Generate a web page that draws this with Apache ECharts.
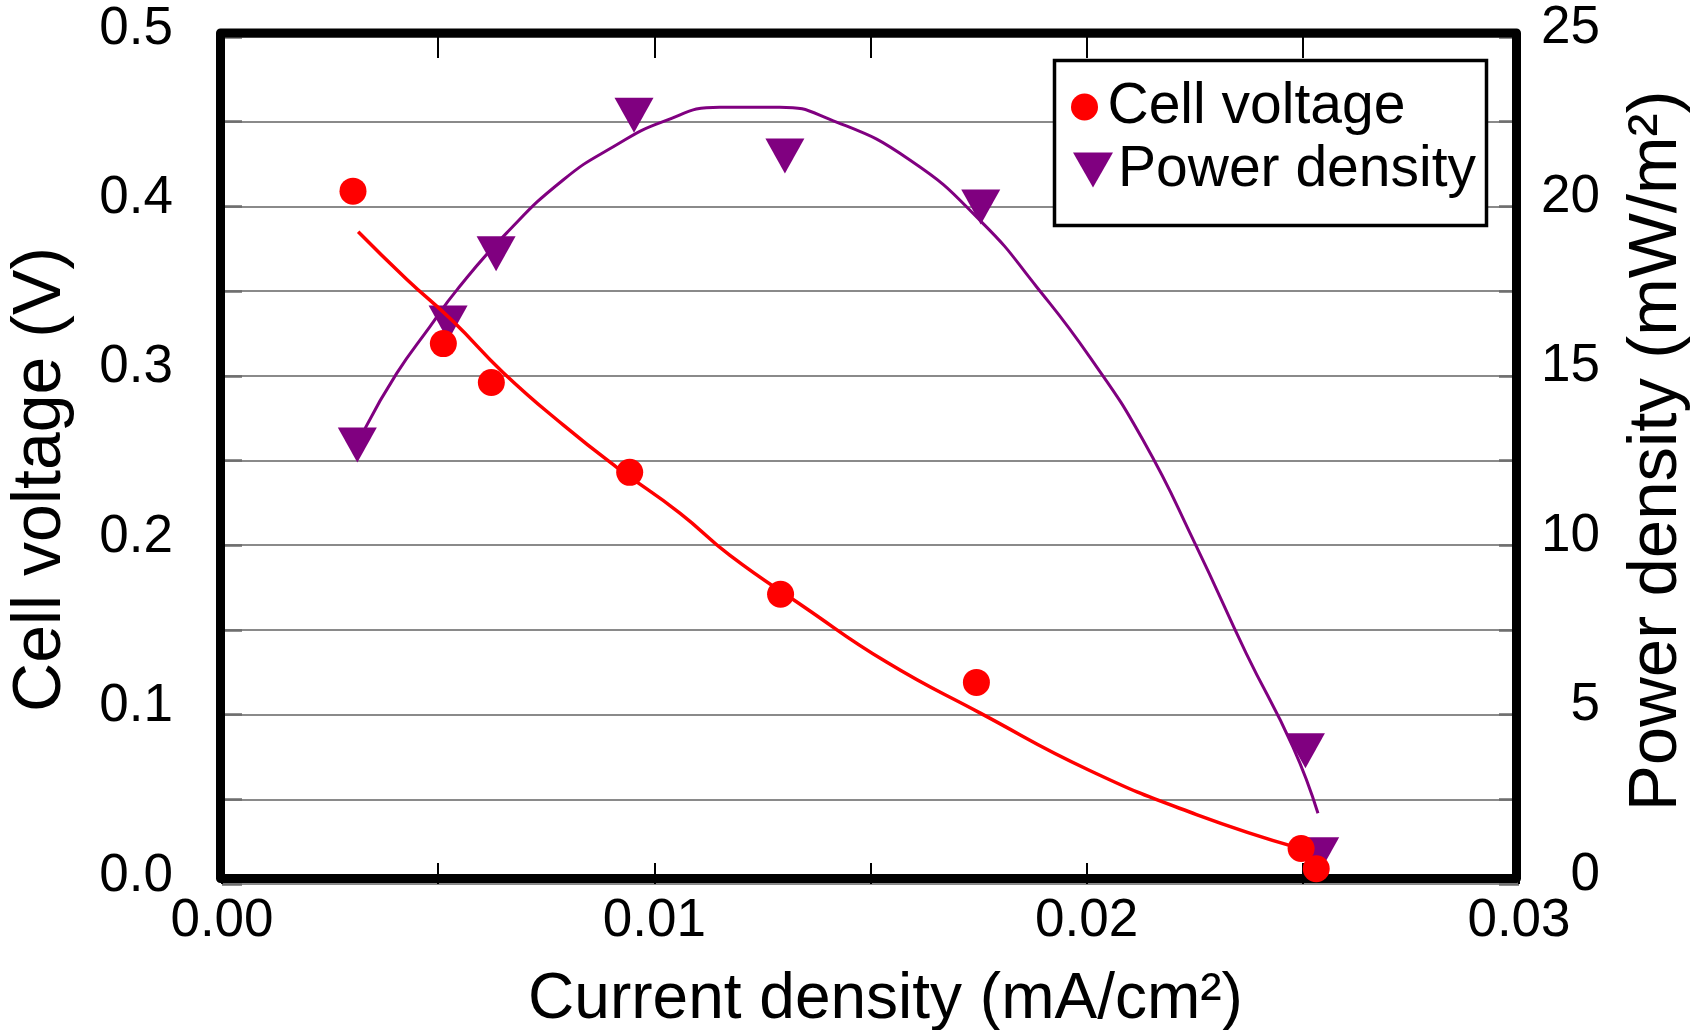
<!DOCTYPE html>
<html>
<head>
<meta charset="utf-8">
<script src="https://cdn.jsdelivr.net/npm/echarts@6/dist/echarts.min.js"></script>
<style>
  html, body { margin: 0; padding: 0; background: #fff; }
  #chart { width: 1693px; height: 1030px; }
</style>
</head>
<body>
<div id="chart"></div>
<script>
// measured points
const currentVolt = [0.00303, 0.00512, 0.00623, 0.00943, 0.01292, 0.01745, 0.02496, 0.02531];
const cellVoltage = [0.409, 0.319, 0.296, 0.243, 0.171, 0.119, 0.021, 0.009];
const currentPow = [0.00313, 0.00523, 0.00634, 0.00953, 0.01302, 0.01755, 0.02506, 0.02539];
const powerDensity = [12.96, 16.56, 18.6, 22.69, 21.49, 19.98, 3.93, 0.86];

// trend lines
const voltFitX = [0.00315, 0.00427, 0.00535, 0.0065, 0.00789, 0.00913, 0.01059, 0.01175, 0.01344, 0.01537, 0.01753, 0.02007, 0.02254, 0.02493];
const voltFitY = [0.385, 0.357, 0.332, 0.302, 0.271, 0.246, 0.219, 0.194, 0.164, 0.131, 0.101, 0.067, 0.041, 0.021];
const powFitX = [0.00331, 0.00404, 0.00481, 0.00543, 0.00658, 0.00789, 0.00905, 0.0102, 0.01151, 0.0129, 0.01406, 0.01591, 0.0176, 0.01884, 0.02007, 0.0213, 0.02254, 0.02369, 0.02477, 0.02535];
const powFitY = [13.45, 15.07, 16.45, 17.53, 19.21, 20.78, 21.76, 22.5, 22.93, 22.93, 22.57, 21.37, 19.5, 17.63, 15.56, 13.11, 9.96, 6.81, 4.05, 2.09];

// axis ticks
const xTicks = { min: 0, max: 0.03, step: 0.005 };
const yLeftTicks = { min: 0, max: 0.5, step: 0.05 };
const yRightTicks = { min: 0, max: 25, step: 2.5 };

const FONT = "'Liberation Sans', Arial, sans-serif";
const GRID = { left: 222, right: 174, top: 37, bottom: 146 };
const TRI = "path://M0,0L40,0L20,35Z";

function zip(a, b) {
    return a.map((v, i) => [v, b[i]]);
}

const chart = echarts.init(document.getElementById("chart"));
const plotW = 1693 - GRID.left - GRID.right;
const plotH = 1030 - GRID.top - GRID.bottom;

// ticks point into the plot; axes stay on their own side (no onZero)
const noLine = { show: false, onZero: false };
const xTick = { inside: true, length: 21, lineStyle: { color: "#000", width: 2 } };
const yTick = { inside: true, length: 20, lineStyle: { color: "#6e6e6e", width: 2.5 } };

chart.setOption({
    animation: false,
    backgroundColor: "#fff",
    textStyle: { fontFamily: FONT },
    grid: {
        left: GRID.left,
        right: GRID.right,
        top: GRID.top,
        bottom: GRID.bottom,
        outerBoundsMode: "none"
    },
    graphic: [
        {
            // plot frame
            type: "rect",
            z: 1,
            silent: true,
            shape: { x: GRID.left - 1.5, y: GRID.top - 4, width: plotW - 1, height: plotH - 1.5 },
            style: { fill: "none", stroke: "#000", lineWidth: 9, lineJoin: "round" }
        },
        {
            // legend box
            type: "rect",
            z: 10,
            silent: true,
            shape: { x: 1054.5, y: 60.5, width: 432, height: 165 },
            style: { fill: "#fff", stroke: "#000", lineWidth: 3.5 }
        }
    ],
    legend: [
        {
            z: 20,
            left: 1071,
            top: 77,
            padding: 0,
            selectedMode: false,
            itemWidth: 36,
            itemHeight: 27,
            icon: "circle",
            data: ["Cell voltage"],
            textStyle: { fontSize: 57, lineHeight: 60, color: "#000", fontFamily: FONT }
        },
        {
            z: 20,
            left: 1073,
            top: 140,
            padding: 0,
            selectedMode: false,
            itemWidth: 40,
            itemHeight: 35,
            icon: TRI,
            data: ["Power density"],
            textStyle: { fontSize: 57, lineHeight: 60, color: "#000", fontFamily: FONT }
        }
    ],
    xAxis: [
        {
            type: "value",
            position: "bottom",
            min: xTicks.min,
            max: xTicks.max,
            interval: xTicks.step,
            axisLine: noLine,
            axisTick: xTick,
            splitLine: { show: false },
            axisLabel: {
                margin: 11,
                fontSize: 53,
                color: "#000",
                fontFamily: FONT,
                formatter: v => (Math.round(v * 1000) % 10 === 0 ? v.toFixed(2) : "")
            },
            name: "Current density (mA/cm²)",
            nameLocation: "middle",
            nameGap: 84,
            nameTextStyle: { fontSize: 64, color: "#000", fontFamily: FONT, padding: [0, 0, 0, 30] }
        },
        {
            type: "value",
            position: "top",
            min: xTicks.min,
            max: xTicks.max,
            interval: xTicks.step,
            axisLine: noLine,
            axisTick: xTick,
            axisLabel: { show: false },
            splitLine: { show: false }
        }
    ],
    yAxis: [
        {
            type: "value",
            position: "left",
            min: yLeftTicks.min,
            max: yLeftTicks.max,
            interval: yLeftTicks.step,
            axisLine: noLine,
            axisTick: yTick,
            splitLine: { lineStyle: { color: "#8a8a8a", width: 2 } },
            axisLabel: {
                margin: 49,
                fontSize: 53,
                color: "#000",
                fontFamily: FONT,
                verticalAlign: "bottom",
                lineHeight: 16,
                formatter: v => (Math.round(v * 100) % 10 === 0 ? v.toFixed(1) : "")
            },
            name: "Cell voltage (V)",
            nameLocation: "middle",
            nameRotate: 90,
            nameGap: 147,
            nameTextStyle: { fontSize: 68, color: "#000", fontFamily: FONT, padding: [0, 38, 0, 0] }
        },
        {
            type: "value",
            position: "right",
            min: yRightTicks.min,
            max: yRightTicks.max,
            interval: yRightTicks.step,
            axisLine: noLine,
            axisTick: yTick,
            splitLine: { show: false },
            axisLabel: {
                margin: 81,
                align: "right",
                fontSize: 53,
                color: "#000",
                fontFamily: FONT,
                verticalAlign: "bottom",
                lineHeight: 18,
                formatter: v => (v % 5 === 0 ? String(v) : "")
            },
            name: "Power density (mW/m²)",
            nameLocation: "middle",
            nameRotate: 90,
            nameGap: 103,
            nameTextStyle: { fontSize: 69, color: "#000", fontFamily: FONT, padding: [0, 0, 0, 19] }
        }
    ],
    series: [
        {
            name: "Power density fit",
            type: "line",
            yAxisIndex: 1,
            data: zip(powFitX, powFitY),
            showSymbol: false,
            smooth: true,
            silent: true,
            lineStyle: { color: "#800080", width: 3 }
        },
        {
            name: "Power density",
            type: "scatter",
            yAxisIndex: 1,
            data: zip(currentPow, powerDensity),
            symbol: TRI,
            symbolSize: [39, 35],
            itemStyle: { color: "#800080", opacity: 1 }
        },
        {
            name: "Cell voltage fit",
            type: "line",
            yAxisIndex: 0,
            data: zip(voltFitX, voltFitY),
            showSymbol: false,
            smooth: true,
            silent: true,
            lineStyle: { color: "#ff0000", width: 3.5 }
        },
        {
            name: "Cell voltage",
            type: "scatter",
            yAxisIndex: 0,
            data: zip(currentVolt, cellVoltage),
            symbol: "circle",
            symbolSize: 27,
            itemStyle: { color: "#ff0000", opacity: 1 }
        }
    ]
});
</script>
</body>
</html>
